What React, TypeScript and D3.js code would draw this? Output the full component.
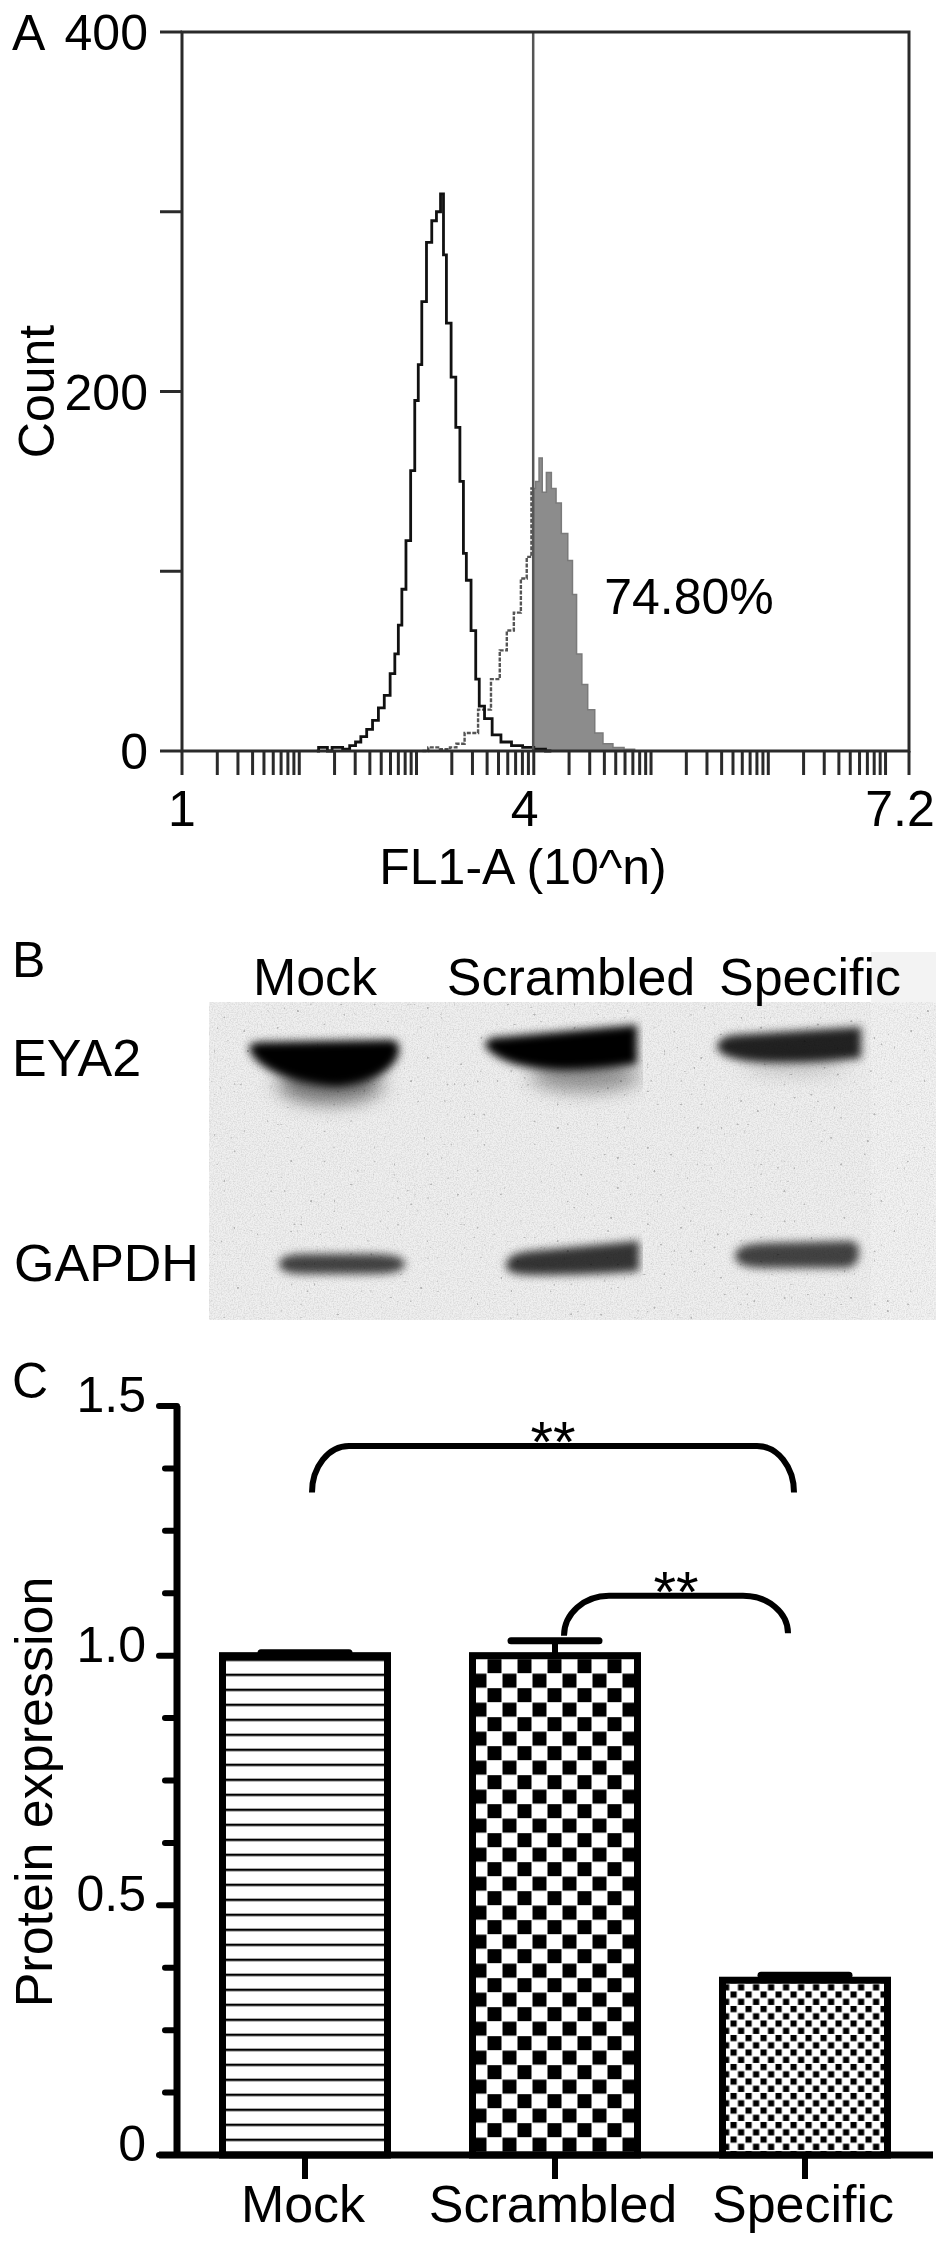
import React, { useEffect, useRef } from "react";
import * as d3 from "d3";

const W = 945;
const H = 2243;
const FONT = '"Liberation Sans", Arial, Helvetica, sans-serif';

// ---- A: flow cytometry histogram (log10 fluorescence vs count) ----
const ctrlLog = [2.15, 2.18, 2.22, 2.26, 2.3, 2.34, 2.4, 2.46, 2.5, 2.55, 2.6, 2.65, 2.7, 2.75, 2.8, 2.83, 2.86, 2.89, 2.93, 2.97, 3.0, 3.03, 3.06, 3.11, 3.15, 3.19, 3.22, 3.24, 3.27, 3.32, 3.35, 3.39, 3.41, 3.44, 3.49, 3.52, 3.55, 3.61, 3.68, 3.76, 3.86, 3.95, 4.05, 4.15];
const ctrlCount = [0, 2, 2, 0, 2, 2, 1, 3, 5, 8, 12, 17, 24, 31, 43, 54, 70, 90, 117, 156, 195, 215, 250, 283, 295, 300, 310, 276, 238, 208, 180, 150, 110, 95, 67, 40, 25, 18, 9, 5, 3, 2, 1, 0];
const sampleLog = [3.05, 3.15, 3.25, 3.32, 3.36, 3.46, 3.59, 3.68, 3.74, 3.8, 3.86, 3.92, 3.96, 4.0, 4.03, 4.06, 4.085, 4.13, 4.17, 4.21, 4.26, 4.32, 4.34, 4.39, 4.43, 4.49, 4.55, 4.63, 4.72, 4.82, 4.9];
const sampleCount = [0, 2, 1, 2, 4, 10, 23, 40, 56, 67, 77, 96, 108, 146, 150, 163, 144, 155, 146, 138, 121, 106, 87, 54, 37, 23, 10, 4, 2, 1, 0];
const gateLog = 3.995;
const gateLabel = "74.80%";
const countTicks = [0, 100, 200, 300, 400];
const countTickLabels = ["0", "", "200", "", "400"];
const logLabelVals = [1, 4, 7.2];
const logLabelText = ["1", "4", "7.2"];

// ---- B: western blot ----
const lanes = ["Mock", "Scrambled", "Specific"];
const eya2Intensity = [1.0, 1.0, 0.86];
const gapdhIntensity = [0.72, 0.78, 0.72];

// ---- C: quantification ----
const groups = ["Mock", "Scrambled", "Specific"];
const expression = [1.0, 1.0, 0.35];
const expressionErr = [0.006, 0.03, 0.01];
const yTicksC = [0, 0.5, 1.0, 1.5];
const yTickLabelsC = ["0", "0.5", "1.0", "1.5"];
const sigFrom = [0, 1];
const sigTo = [2, 2];
const sigTop = [1.42, 1.12];
const sigEndL = [1.327, 1.04];
const sigEndR = [1.327, 1.045];
const sigText = ["**", "**"];

export default function App() {
  const svgRef = useRef<SVGSVGElement | null>(null);

  useEffect(() => {
    document.body.style.margin = "0";
    const svg = d3.select(svgRef.current);
    svg.selectAll("*").remove();
    svg.attr("font-family", FONT);

    const defs = svg.append("defs");

    // ================= Panel A =================
    const xA = d3.scaleLinear().domain([1, 7.2]).range([182, 909]);
    const yA = d3.scaleLinear().domain([0, 400]).range([751, 32]);
    const gA = svg.append("g");

    const ctrl = ctrlLog.map((v, i) => [v, ctrlCount[i]] as [number, number]);
    const samp = sampleLog.map((v, i) => [v, sampleCount[i]] as [number, number]);
    const line = d3
      .line<[number, number]>()
      .x((d) => xA(d[0]))
      .y((d) => yA(d[1]))
      .curve(d3.curveStep);
    const area = d3
      .area<[number, number]>()
      .x((d) => xA(d[0]))
      .y0(yA(0))
      .y1((d) => yA(d[1]))
      .curve(d3.curveStep);

    defs
      .append("clipPath")
      .attr("id", "gateR")
      .append("rect")
      .attr("x", xA(gateLog))
      .attr("y", 0)
      .attr("width", 909 - xA(gateLog))
      .attr("height", 760);
    defs
      .append("clipPath")
      .attr("id", "gateL")
      .append("rect")
      .attr("x", 182)
      .attr("y", 0)
      .attr("width", xA(gateLog) - 182)
      .attr("height", 760);

    gA.append("path")
      .attr("d", area(samp))
      .attr("fill", "#8c8c8c")
      .attr("stroke", "#7a7a7a")
      .attr("stroke-width", 1.5)
      .attr("clip-path", "url(#gateR)");
    gA.append("path")
      .attr("d", line(samp))
      .attr("fill", "none")
      .attr("stroke", "#555")
      .attr("stroke-width", 2.4)
      .attr("stroke-dasharray", "4 1.5")
      .attr("clip-path", "url(#gateL)");
    gA.append("path")
      .attr("d", line(ctrl))
      .attr("fill", "none")
      .attr("stroke", "#111")
      .attr("stroke-width", 2.8);

    // gate
    gA.append("line")
      .attr("x1", xA(gateLog))
      .attr("x2", xA(gateLog))
      .attr("y1", yA(400))
      .attr("y2", yA(0))
      .attr("stroke", "#555")
      .attr("stroke-width", 2.5);

    // frame
    gA.append("rect")
      .attr("x", xA(1))
      .attr("y", yA(400))
      .attr("width", xA(7.2) - xA(1))
      .attr("height", yA(0) - yA(400))
      .attr("fill", "none")
      .attr("stroke", "#2a2a2a")
      .attr("stroke-width", 3);

    // y ticks
    gA.selectAll("line.yt")
      .data(countTicks)
      .join("line")
      .attr("x1", 160)
      .attr("x2", xA(1))
      .attr("y1", (d) => yA(d))
      .attr("y2", (d) => yA(d))
      .attr("stroke", "#2a2a2a")
      .attr("stroke-width", 3);
    gA.selectAll("text.yl")
      .data(countTicks)
      .join("text")
      .attr("x", 148)
      .attr("y", (d) => yA(d) + 18)
      .attr("text-anchor", "end")
      .attr("font-size", 50)
      .text((_, i) => countTickLabels[i]);

    // log ticks
    const logTicks: number[] = [];
    for (let n = 1; n <= 7; n++) {
      for (let k = 1; k <= 9; k++) {
        const v = n + Math.log10(k);
        if (v <= 7.2) logTicks.push(v);
      }
    }
    logTicks.push(7.2);
    gA.selectAll("line.xt")
      .data(logTicks)
      .join("line")
      .attr("x1", (d) => xA(d))
      .attr("x2", (d) => xA(d))
      .attr("y1", yA(0))
      .attr("y2", 775)
      .attr("stroke", "#2a2a2a")
      .attr("stroke-width", 3);
    gA.selectAll("text.xl")
      .data(logLabelVals)
      .join("text")
      .attr("x", (d) => xA(d) - (d > 1 ? 9 : 0))
      .attr("y", 826)
      .attr("text-anchor", "middle")
      .attr("font-size", 50)
      .text((_, i) => logLabelText[i]);

    gA.append("text")
      .attr("x", 523)
      .attr("y", 884)
      .attr("text-anchor", "middle")
      .attr("font-size", 50)
      .text("FL1-A (10^n)");
    gA.append("text")
      .attr("transform", `translate(54,${yA(200)}) rotate(-90)`)
      .attr("text-anchor", "middle")
      .attr("font-size", 50)
      .text("Count");
    gA.append("text").attr("x", 12).attr("y", 50).attr("font-size", 50).text("A");
    gA.append("text")
      .attr("x", xA(4.6))
      .attr("y", yA(76))
      .attr("font-size", 50)
      .text(gateLabel);

    // ================= Panel B =================
    const gB = svg.append("g");
    const xB = d3.scaleBand().domain(lanes).range([205, 925]);
    const laneC = (l: string) => (xB(l) as number) + xB.bandwidth() / 2;
    const labelShift = [-10, 6, 5];
    const laneClip = [
      [209, 451],
      [451, 643],
      [647, 871],
    ];

    const noise = defs
      .append("filter")
      .attr("id", "noise")
      .attr("x", 0)
      .attr("y", 0)
      .attr("width", "100%")
      .attr("height", "100%");
    noise
      .append("feTurbulence")
      .attr("type", "fractalNoise")
      .attr("baseFrequency", 0.75)
      .attr("numOctaves", 2)
      .attr("seed", 4)
      .attr("result", "t");
    noise
      .append("feColorMatrix")
      .attr("in", "t")
      .attr("type", "matrix")
      .attr("values", "0 0 0 0 0  0 0 0 0 0  0 0 0 0 0  0 0 0 0.22 -0.08");

    const specks = defs
      .append("filter")
      .attr("id", "specks")
      .attr("x", 0)
      .attr("y", 0)
      .attr("width", "100%")
      .attr("height", "100%");
    specks
      .append("feTurbulence")
      .attr("type", "fractalNoise")
      .attr("baseFrequency", 0.3)
      .attr("numOctaves", 1)
      .attr("seed", 11)
      .attr("result", "s");
    specks
      .append("feColorMatrix")
      .attr("in", "s")
      .attr("type", "matrix")
      .attr("values", "0 0 0 0 0.45  0 0 0 0 0.45  0 0 0 0 0.45  0 0 0 12 -8.6");

    const blur = defs
      .append("filter")
      .attr("id", "bandBlur")
      .attr("x", "-40%")
      .attr("y", "-100%")
      .attr("width", "180%")
      .attr("height", "300%");
    blur.append("feGaussianBlur").attr("stdDeviation", "4.5 4.5");
    const smear = defs
      .append("filter")
      .attr("id", "smearBlur")
      .attr("x", "-60%")
      .attr("y", "-150%")
      .attr("width", "220%")
      .attr("height", "400%");
    smear.append("feGaussianBlur").attr("stdDeviation", "10 9");

    gB.append("rect")
      .attr("x", 871)
      .attr("y", 952)
      .attr("width", 65)
      .attr("height", 368)
      .attr("fill", "#f3f3f3");
    gB.append("rect")
      .attr("x", 209)
      .attr("y", 1002)
      .attr("width", 662)
      .attr("height", 318)
      .attr("fill", "#f0f0f0");
    gB.append("rect")
      .attr("x", 209)
      .attr("y", 1002)
      .attr("width", 727)
      .attr("height", 318)
      .attr("fill", "#000")
      .attr("filter", "url(#noise)");
    gB.append("rect")
      .attr("x", 209)
      .attr("y", 1002)
      .attr("width", 727)
      .attr("height", 318)
      .attr("fill", "#000")
      .attr("filter", "url(#specks)");

    // band outlines relative to lane centre (dx, dy from 1000)
    const eyaCore = [
      "M-76,48 Q-76,41 -55,42 L66,40 Q77,41 73,56 Q62,80 18,86 Q3,88 -30,80 Q-70,68 -76,48 Z",
      "M-80,46 Q-80,37 -62,37 L72,25 L72,64 Q30,71 -10,70 Q-64,67 -80,46 Z",
      "M-88,48 Q-88,37 -70,35 L56,27 L56,58 Q5,64 -45,62 Q-82,60 -88,48 Z",
    ];
    const eyaSmear = [
      [5, 84, 52, 20, 0.5],
      [20, 76, 55, 16, 0.38],
      [-10, 66, 52, 9, 0.16],
    ];
    const gapCore = [
      "M-46,264 Q-46,254 -20,254 L46,254 Q80,254 80,264 Q80,274 46,274 L-20,274 Q-46,274 -46,264 Z",
      "M-59,266 Q-59,253 -33,251 L74,241 L74,271 Q29,275 -31,275 Q-59,275 -59,266 Z",
      "M-70,256 Q-70,244 -40,243 L44,241 Q54,241 54,252 Q54,267 40,268 L-40,268 Q-70,268 -70,256 Z",
    ];

    lanes.forEach((l, i) => {
      defs
        .append("clipPath")
        .attr("id", `lane${i}`)
        .append("rect")
        .attr("x", laneClip[i][0])
        .attr("y", 1002)
        .attr("width", laneClip[i][1] - laneClip[i][0])
        .attr("height", 318);
      const cx = laneC(l);
      const cg = gB.append("g").attr("clip-path", `url(#lane${i})`);
      const [sdx, sdy, srx, sry, sop] = eyaSmear[i];
      cg.append("g")
        .attr("filter", "url(#smearBlur)")
        .append("ellipse")
        .attr("cx", cx + sdx)
        .attr("cy", 1000 + sdy)
        .attr("rx", srx)
        .attr("ry", sry)
        .attr("fill", "#000")
        .attr("opacity", sop);
      const bg = cg
        .append("g")
        .attr("filter", "url(#bandBlur)")
        .attr("transform", `translate(${cx},1000)`);
      bg.append("path")
        .attr("d", eyaCore[i])
        .attr("fill", "#000")
        .attr("opacity", eya2Intensity[i]);
      bg.append("path")
        .attr("d", gapCore[i])
        .attr("fill", "#000")
        .attr("opacity", gapdhIntensity[i]);

      gB.append("text")
        .attr("x", laneC(l) + labelShift[i])
        .attr("y", 995)
        .attr("text-anchor", "middle")
        .attr("font-size", 52)
        .text(l);
    });

    gB.append("text").attr("x", 12).attr("y", 977).attr("font-size", 50).text("B");
    gB.append("text").attr("x", 12).attr("y", 1076).attr("font-size", 52).text("EYA2");
    gB.append("text").attr("x", 14).attr("y", 1281).attr("font-size", 52).text("GAPDH");

    // ================= Panel C =================
    const gC = svg.append("g");
    const xC = d3
      .scaleBand()
      .domain(groups)
      .range([180, 930])
      .paddingInner(0.34)
      .paddingOuter(0.17);
    const yC = d3.scaleLinear().domain([0, 1.5]).range([2155, 1406]);
    const bw = xC.bandwidth();
    const cC = (g: string) => (xC(g) as number) + bw / 2;

    // patterns
    const stripes = defs
      .append("pattern")
      .attr("id", "stripes")
      .attr("patternUnits", "userSpaceOnUse")
      .attr("width", 15)
      .attr("height", 15)
      .attr("y", yC(1) + 3);
    stripes.append("rect").attr("width", 15).attr("height", 15).attr("fill", "#fff");
    stripes.append("rect").attr("y", 0).attr("width", 15).attr("height", 2.4).attr("fill", "#000");

    const checks = defs
      .append("pattern")
      .attr("id", "checks")
      .attr("patternUnits", "userSpaceOnUse")
      .attr("width", 30)
      .attr("height", 29)
      .attr("x", xC("Scrambled") as number)
      .attr("y", yC(1) + 3.5);
    checks.append("rect").attr("width", 30).attr("height", 29).attr("fill", "#fff");
    checks.append("rect").attr("x", 15).attr("y", 0).attr("width", 14).attr("height", 14).attr("fill", "#000");
    checks.append("rect").attr("x", 0).attr("y", 14.5).attr("width", 14).attr("height", 14).attr("fill", "#000");

    const fine = defs
      .append("pattern")
      .attr("id", "fine")
      .attr("patternUnits", "userSpaceOnUse")
      .attr("width", 15)
      .attr("height", 14.5)
      .attr("x", xC("Specific") as number)
      .attr("y", yC(0.35) + 3.5);
    fine.append("rect").attr("width", 15).attr("height", 14.5).attr("fill", "#fff");
    fine.append("rect").attr("x", 0.5).attr("y", 0.5).attr("width", 6.2).attr("height", 6.2).attr("fill", "#000");
    fine.append("rect").attr("x", 8).attr("y", 7.75).attr("width", 6.2).attr("height", 6.2).attr("fill", "#000");

    const fills = ["url(#stripes)", "url(#checks)", "url(#fine)"];

    gC.selectAll("rect.bar")
      .data(groups)
      .join("rect")
      .attr("x", (d) => xC(d) as number)
      .attr("y", (_, i) => yC(expression[i]))
      .attr("width", bw)
      .attr("height", (_, i) => yC(0) - yC(expression[i]))
      .attr("fill", (_, i) => fills[i])
      .attr("stroke", "#000")
      .attr("stroke-width", 7);

    // error bars
    groups.forEach((g, i) => {
      const top = yC(expression[i] + expressionErr[i]);
      gC.append("line")
        .attr("x1", cC(g))
        .attr("x2", cC(g))
        .attr("y1", yC(expression[i]))
        .attr("y2", top)
        .attr("stroke", "#000")
        .attr("stroke-width", 6);
      gC.append("line")
        .attr("x1", cC(g) - 44)
        .attr("x2", cC(g) + 44)
        .attr("y1", top)
        .attr("y2", top)
        .attr("stroke", "#000")
        .attr("stroke-width", 7)
        .attr("stroke-linecap", "round");
    });

    // axes
    gC.append("line")
      .attr("x1", 177)
      .attr("x2", 177)
      .attr("y1", yC(1.5))
      .attr("y2", yC(0))
      .attr("stroke", "#000")
      .attr("stroke-width", 7);
    gC.append("line")
      .attr("x1", 159)
      .attr("x2", 933)
      .attr("y1", yC(0))
      .attr("y2", yC(0))
      .attr("stroke", "#000")
      .attr("stroke-width", 7);
    const minor = d3.range(0, 1.5001, 0.125);
    gC.selectAll("line.mt")
      .data(minor)
      .join("line")
      .attr("x1", (d) => (Math.abs((d * 2) % 1) < 1e-6 ? 159 : 165))
      .attr("x2", 177)
      .attr("y1", (d) => yC(d))
      .attr("y2", (d) => yC(d))
      .attr("stroke", "#000")
      .attr("stroke-width", 6)
      .attr("stroke-linecap", "round");
    gC.selectAll("line.xt")
      .data(groups)
      .join("line")
      .attr("x1", (d) => cC(d))
      .attr("x2", (d) => cC(d))
      .attr("y1", yC(0))
      .attr("y2", 2179)
      .attr("stroke", "#000")
      .attr("stroke-width", 6);

    gC.selectAll("text.yl")
      .data(yTicksC)
      .join("text")
      .attr("x", 146)
      .attr("y", (d) => yC(d) + 6)
      .attr("text-anchor", "end")
      .attr("font-size", 50)
      .text((_, i) => yTickLabelsC[i]);
    gC.selectAll("text.xl")
      .data(groups)
      .join("text")
      .attr("x", (d) => cC(d) - 2)
      .attr("y", 2222)
      .attr("text-anchor", "middle")
      .attr("font-size", 52)
      .text((d) => d);
    gC.append("text")
      .attr("transform", `translate(52,1792) rotate(-90)`)
      .attr("text-anchor", "middle")
      .attr("font-size", 52)
      .text("Protein expression");
    gC.append("text").attr("x", 12).attr("y", 1398).attr("font-size", 50).text("C");

    // significance brackets
    const xOff = [[7, -11], [9, -17]];
    const rxs = [37, 45];
    sigFrom.forEach((f, i) => {
      const x1 = cC(groups[f]) + xOff[i][0];
      const x2 = cC(groups[sigTo[i]]) + xOff[i][1];
      const yt = yC(sigTop[i]);
      const yl = yC(sigEndL[i]);
      const yr = yC(sigEndR[i]);
      const r = rxs[i];
      gC.append("path")
        .attr(
          "d",
          `M${x1},${yl} A${r},${yl - yt} 0 0 1 ${x1 + r},${yt} L${x2 - r},${yt} A${r},${yr - yt} 0 0 1 ${x2},${yr}`
        )
        .attr("fill", "none")
        .attr("stroke", "#000")
        .attr("stroke-width", 6);
      gC.append("text")
        .attr("x", (x1 + x2) / 2)
        .attr("y", yt + 16)
        .attr("text-anchor", "middle")
        .attr("font-size", 58)
        .text(sigText[i]);
    });
  }, []);

  return (
    <svg
      ref={svgRef}
      width={W}
      height={H}
      viewBox={`0 0 ${W} ${H}`}
      style={{ display: "block", background: "#fff" }}
    />
  );
}
